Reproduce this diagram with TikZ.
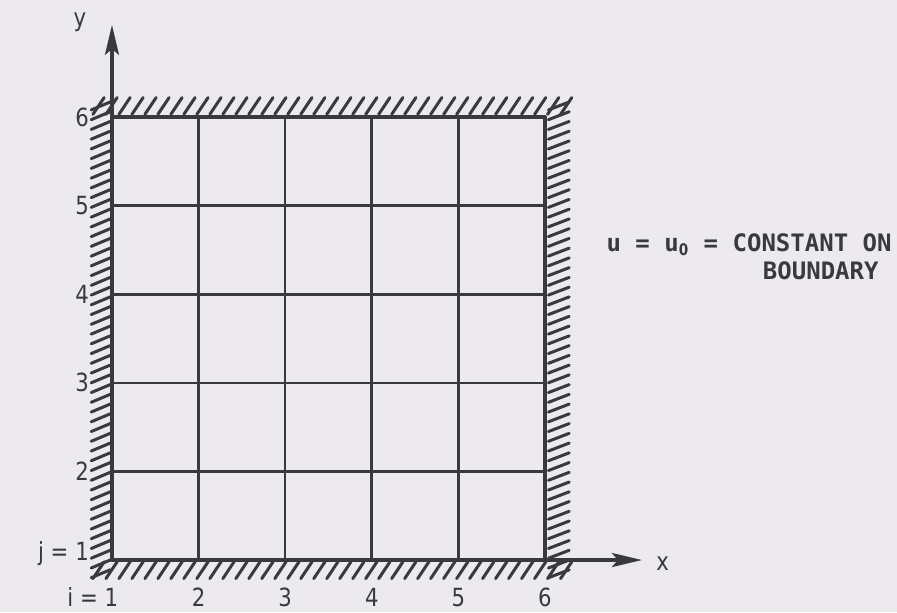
\documentclass[tikz,border=0pt]{standalone}
\usepackage{fontspec}
\usetikzlibrary{arrows.meta}
\setmainfont{DejaVu Sans}[FakeStretch=0.85]
\newfontfamily\leroyfont{DejaVu Sans Mono}
\begin{document}
\begin{tikzpicture}[x=43.3pt, y=44.3pt, line join=round, line cap=round, >={Stealth[length=15pt, width=7pt, inset=3pt]}]
	\definecolor{paper}{RGB}{237,234,238}
	\definecolor{ink}{RGB}{58,58,62}
	\tikzset{
		gridline/.style={ink, line width=1.3pt},
		wall/.style={ink, line width=1.7pt},
		hatch/.style={ink, line width=1.5pt},
		lbl/.style={text=ink, font=\fontsize{12.5}{13}\selectfont, inner sep=1pt},
		notetext/.style={text=ink, font=\leroyfont\bfseries\fontsize{12}{14}\selectfont, inner sep=1pt}
	}
	\fill[paper] (-0.293,0.413) rectangle (10.065,7.321);
	\useasboundingbox (-0.293,0.413) rectangle (10.065,7.321);
	\coordinate (O) at (1,1);
	\coordinate (P) at (6,6);
	\coordinate (Y) at (1,7.04);
	\coordinate (X) at (7.12,1);
	% hatching round the boundary
	\foreach \s in {0.78,0.93,...,6.2}{
		\draw[hatch] (\s,6.03) -- ++(0.13,0.19);
		\draw[hatch] (\s,0.79) -- ++(0.13,0.19);
	}
	\foreach \t in {0.8,0.91,...,6.15}{
		\draw[hatch] (0.76,\t) -- ++(0.22,0.09);
		\draw[hatch] (6.04,\t) -- ++(0.24,0.09);
	}
	% mesh
	\foreach \k in {2,...,5}{
		\draw[gridline] (\k,1) -- (\k,6);
		\draw[gridline] (1,\k) -- (6,\k);
	}
	\draw[wall] (O) rectangle (P);
	\draw[wall, ->] (O) -- (Y);
	\draw[wall, ->] (O) -- (X);
	\node[lbl] (ylab) at (0.63,7.07) {y};
	\node[lbl] (xlab) at (7.36,0.96) {x};
	% node numbers
	\node[lbl, anchor=east] (j1) at (0.76,1.07) {j = 1};
	\foreach \k in {2,...,6}{
		\node[lbl, anchor=east] (j\k) at (0.76,\k) {\k};
	}
	\node[lbl, anchor=east] (i1) at (1.1,0.58) {i = 1};
	\foreach \k in {2,...,6}{
		\node[lbl] (i\k) at (\k,0.58) {\k};
	}
	\node[notetext, anchor=east] (note) at (10.03,4.56) {u = u\textsubscript{\rmfamily 0} = CONSTANT ON};
	\node[notetext, anchor=east] (noteb) at (9.88,4.26) {BOUNDARY};
\end{tikzpicture}
\end{document}
